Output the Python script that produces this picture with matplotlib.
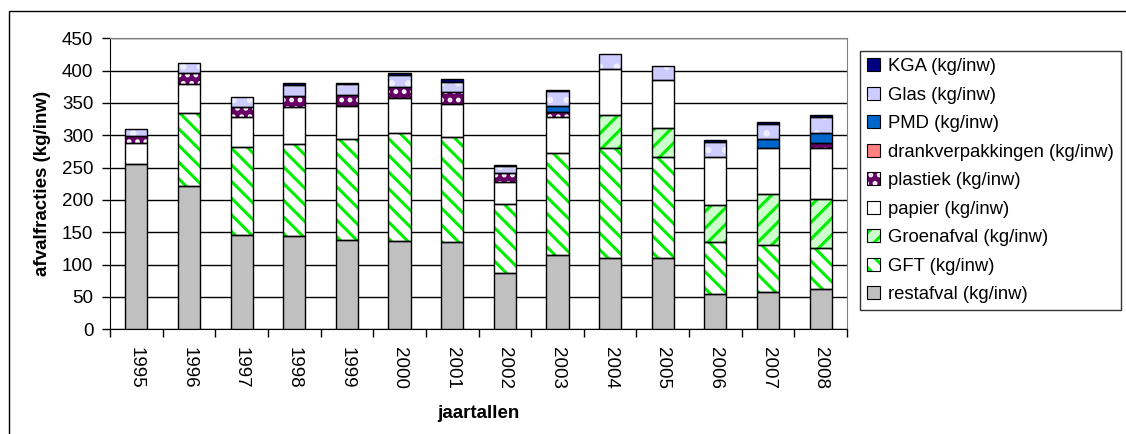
import numpy as np
import matplotlib
matplotlib.use("Agg")
import matplotlib.pyplot as plt
from matplotlib.patches import Patch, Rectangle

plt.rcParams.update({"font.family": ["Liberation Sans", "DejaVu Sans"], "hatch.linewidth": 2.2})

years = ["1995", "1996", "1997", "1998", "1999", "2000", "2001",
         "2002", "2003", "2004", "2005", "2006", "2007", "2008"]

restafval = [256, 222, 146, 144, 138, 137, 135, 87, 115, 111, 110, 55, 57, 63]
gft = [0, 113, 136, 143, 156, 166, 163, 106, 158, 169, 156, 80, 73, 63]
groenafval = [0, 0, 0, 0, 0, 0, 0, 0, 0, 52, 46, 57, 79, 76]
papier = [32, 45, 46, 57, 51, 54, 50, 35, 56, 71, 73, 75, 71, 79]
plastiek = [11, 16, 15, 17, 17, 18, 19, 13, 7, 0, 0, 0, 0, 7]
drankverpakkingen = [0, 0, 0, 0, 0, 0, 0, 0, 0, 0, 0, 0, 0, 0]
pmd = [0, 0, 0, 0, 0, 0, 0, 0, 10, 0, 0, 0, 14, 16]
glas = [11, 16, 17, 17, 17, 19, 15, 12, 22, 23, 22, 23, 24, 24]
kga = [0, 0, 0, 3, 2, 2, 5, 1, 2, 0, 0, 2, 2, 3]

# (label, values, facecolor, hatch, hatch colour)
series = [
    ("restafval (kg/inw)", restafval, "#C0C0C0", None, None),
    ("GFT (kg/inw)", gft, "white", "\\\\", "#00EE00"),
    ("Groenafval (kg/inw)", groenafval, "#CCFFCC", "//", "#00EE00"),
    ("papier (kg/inw)", papier, "white", None, None),
    ("plastiek (kg/inw)", plastiek, "#660066", "..", "white"),
    ("drankverpakkingen (kg/inw)", drankverpakkingen, "#FF8080", None, None),
    ("PMD (kg/inw)", pmd, "#0066CC", None, None),
    ("Glas (kg/inw)", glas, "#CCCCFF", ".", "#EEEEFF"),
    ("KGA (kg/inw)", kga, "#000080", None, None),
]

fig = plt.figure(figsize=(11.26, 4.34), dpi=100)
ax = fig.add_axes([110 / 1126, 1 - 329.3 / 434, 737 / 1126, 291 / 434])

x = np.arange(len(years))
width = 0.42
bottom = np.zeros(len(years))
handles = []
for label, vals, fc, hatch, hc in series:
    vals = np.array(vals, dtype=float)
    idx = vals > 0
    if idx.any():
        ax.bar(x[idx], vals[idx], width, bottom=bottom[idx], color=fc,
               hatch=hatch, edgecolor=hc if hatch else fc, linewidth=0, zorder=3)
        ax.bar(x[idx], vals[idx], width, bottom=bottom[idx], fill=False,
               edgecolor="black", linewidth=1.0, zorder=4)
    bottom += vals
    h1 = Patch(facecolor=fc, hatch=hatch, edgecolor=hc if hatch else fc, linewidth=0)
    h2 = Patch(fill=False, edgecolor="black", linewidth=0.8)
    handles.append(((h1, h2), label))

ax.set_xlim(-0.5, len(years) - 0.5)
ax.set_ylim(0, 450)
ax.set_yticks(range(0, 451, 50))
ax.yaxis.grid(True, color="black", linewidth=1.0, zorder=0)
ax.set_axisbelow(True)

ax.set_xticks(x)
ax.set_xticklabels(years, rotation=270, fontsize=13.5)
ax.set_xticks(np.arange(-0.5, len(years)), minor=True)
ax.tick_params(axis="x", which="major", length=0, pad=13)
ax.tick_params(axis="x", which="minor", length=6, width=1, direction="out")
ax.tick_params(axis="y", length=6, width=1, direction="out", pad=6, labelsize=13.5)

for side in ["top", "right"]:
    ax.spines[side].set_color("#808080")
for side in ["left", "bottom"]:
    ax.spines[side].set_color("black")

ax.set_xlabel("jaartallen", fontsize=13.5, fontweight="bold", va="center")
ax.xaxis.set_label_coords(0.5, -0.29)
ax.set_ylabel("afvalfracties (kg/inw)", fontsize=13.5, fontweight="bold", va="center")
ax.yaxis.set_label_coords(-0.092, 0.5)

hs = [h for h, _ in handles][::-1]
ls = [l for _, l in handles][::-1]
leg = fig.legend(hs, ls, loc="upper left", bbox_to_anchor=(860 / 1126, 1 - 51 / 434),
                 bbox_transform=fig.transFigure, fontsize=13.3, frameon=True,
                 fancybox=False, edgecolor="black", handlelength=0.7, handleheight=0.7,
                 handletextpad=0.4, labelspacing=0.62, borderaxespad=0, borderpad=0.4)
leg.get_frame().set_linewidth(1.0)

fig.patches.append(Rectangle((9 / 1126, -0.1), 1.2, 1.1 - 11 / 434, transform=fig.transFigure,
                             fill=False, edgecolor="black", linewidth=1.0))

fig.savefig("out.png", dpi=100)
